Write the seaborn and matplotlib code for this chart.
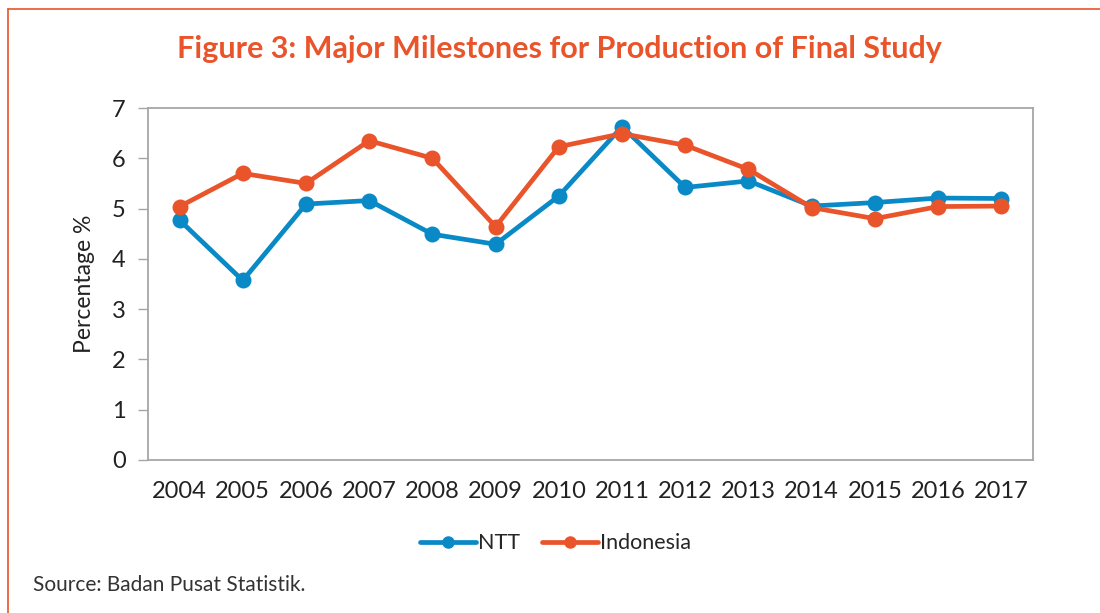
import numpy as np
import pandas as pd
import seaborn as sns
import matplotlib.pyplot as plt
from matplotlib.lines import Line2D

# values
years = ["2004", "2005", "2006", "2007", "2008", "2009", "2010",
         "2011", "2012", "2013", "2014", "2015", "2016", "2017"]
ntt = [4.77, 3.57, 5.09, 5.16, 4.49, 4.29, 5.25,
       6.63, 5.42, 5.55, 5.05, 5.12, 5.21, 5.20]
indonesia = [5.04, 5.70, 5.50, 6.35, 6.00, 4.64, 6.23,
             6.49, 6.26, 5.78, 5.02, 4.80, 5.04, 5.05]

series_names = ["NTT", "Indonesia"]
colors = {"NTT": "#0A89C7", "Indonesia": "#E9542B"}
orange = "#E9542B"
grey = "#A6A6A6"
txt = "#222222"

sns.set_theme(style="white")
plt.rcParams["font.family"] = ["Lato", "DejaVu Sans"]

pos = np.arange(len(years))
df = pd.DataFrame({
    "pos": np.concatenate([pos, pos]),
    "value": ntt + indonesia,
    "series": ["NTT"] * len(years) + ["Indonesia"] * len(years),
})

fig = plt.figure(figsize=(11, 6.13), dpi=100)
ax = fig.add_axes([0.1345, 0.2496, 0.8045, 0.5742])

sns.lineplot(data=df, x="pos", y="value", hue="series", hue_order=series_names,
             palette=colors, marker="o", markersize=11.5, markeredgewidth=0,
             linewidth=3.4, ax=ax, legend=False)

ax.set_xlim(-0.5, len(years) - 0.5)
ax.set_ylim(0, 7)
ax.set_yticks(range(0, 8))
ax.set_xticks(pos)
ax.set_xticklabels(years)
ax.set_xticks(np.arange(-0.5, len(years)), minor=True)
ax.tick_params(axis="x", which="major", length=0, pad=15, labelsize=17, colors=txt)
ax.tick_params(axis="x", which="minor", length=7, width=1, color=grey, direction="out")
ax.tick_params(axis="y", length=7, width=1, color=grey, direction="out",
               pad=9, labelsize=17, labelcolor=txt, left=True)
ax.set_xlabel("")
ax.set_ylabel("Percentage %", fontsize=16.5, color=txt, labelpad=12)
for s in ax.spines.values():
    s.set_color(grey)
    s.set_linewidth(1.3)

handles = [Line2D([], [], color=colors[n], marker="o", markersize=9,
                  markeredgewidth=0, linewidth=3.4) for n in series_names]
fig.legend(handles, series_names, loc="center", bbox_to_anchor=(0.505, 0.114),
           ncol=2, frameon=False, fontsize=15.5, handlelength=2.6,
           columnspacing=1.0, handletextpad=0.1)

fig.text(0.509, 0.92, "Figure 3: Major Milestones for Production of Final Study",
         ha="center", va="center", fontsize=22, fontweight="bold", color=orange)
fig.text(0.03, 0.045, "Source: Badan Pusat Statistik.", ha="left", va="center",
         fontsize=15, color="#333333")

# orange frame lines (top and left)
fig.add_artist(Line2D([0.0075, 1.0], [0.985, 0.985], color=orange, linewidth=1.2,
                      transform=fig.transFigure))
fig.add_artist(Line2D([0.0075, 0.0075], [0.0, 0.985], color=orange, linewidth=1.2,
                      transform=fig.transFigure))

fig.savefig("out.png", dpi=100)
